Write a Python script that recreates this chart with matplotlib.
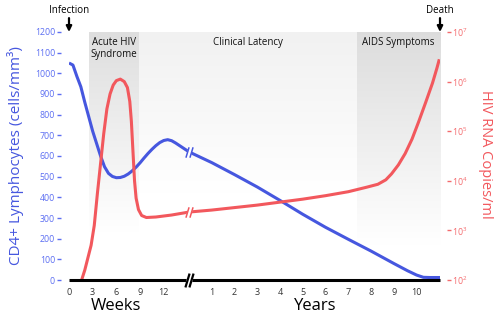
import numpy as np
import matplotlib
matplotlib.use('Agg')
import matplotlib.pyplot as plt
from matplotlib.ticker import NullLocator
from matplotlib.transforms import offset_copy

plt.rcParams['font.family'] = ['Open Sans', 'DejaVu Sans']
plt.rcParams['mathtext.fontset'] = 'custom'
plt.rcParams['mathtext.rm'] = 'Open Sans'
plt.rcParams['mathtext.default'] = 'regular'

# CD4 count (cells/mm3), first weeks after infection
cd4_weeks = [0, 0.5, 1, 1.5, 2, 2.5, 3, 3.5, 4, 4.5, 5, 5.5, 6, 6.5, 7, 7.5, 8, 8.5, 9, 9.5, 10, 10.5,
             11, 11.5, 12, 12.5, 13, 13.5, 15.2]
cd4_weeks_val = [1050, 1040, 985, 935, 860, 790, 720, 660, 600, 548, 516, 501, 495, 496, 502, 513, 528,
                 546, 567, 590, 612, 632, 650, 665, 675, 679, 674, 663, 620]
# CD4 count, years after infection
cd4_years = [0, 1, 2, 3, 4, 5, 6, 7, 8, 9, 9.6, 10, 10.3, 10.6, 11.03]
cd4_years_val = [620, 568, 510, 450, 385, 318, 255, 197, 140, 80, 45, 24, 13, 12, 12]

# HIV RNA, log10 copies/ml
rna_weeks = [1.6, 2.0, 2.4, 2.8, 3.2, 3.6, 4.0, 4.4, 4.8, 5.2, 5.6, 6.0, 6.5, 7.0, 7.4, 7.7, 7.9,
             8.1, 8.3, 8.5, 8.8, 9.2, 9.8, 11.0, 13.0, 15.2]
rna_weeks_log = [2.0, 2.2, 2.45, 2.7, 3.1, 3.75, 4.35, 4.95, 5.45, 5.75, 5.93, 6.02, 6.05, 6.0, 5.88, 5.6, 5.2,
                 4.6, 4.0, 3.65, 3.42, 3.3, 3.26, 3.27, 3.31, 3.37]
rna_years = [0, 1, 2, 3, 4, 5, 6, 7, 7.8, 8.3, 8.65, 8.9, 9.2, 9.5, 9.8, 10.1, 10.4, 10.7, 10.9, 11.0]
rna_years_log = [3.37, 3.41, 3.46, 3.51, 3.57, 3.63, 3.70, 3.78, 3.87, 3.93, 4.02, 4.14, 4.32, 4.55, 4.84,
                 5.2, 5.58, 5.97, 6.28, 6.45]

week_ticks = [0, 3, 6, 9, 12]
year_ticks = [1, 2, 3, 4, 5, 6, 7, 8, 9, 10]
cd4_ticks = list(range(0, 1300, 100))
rna_ticks = [1e2, 1e3, 1e4, 1e5, 1e6, 1e7]

# phases: (label, start, end) -- acute in weeks, the rest in years
acute = ('Acute HIV\nSyndrome', 2.53, 8.86)
latency_end_week = 15.2
aids = ('AIDS Symptoms', 7.37, 11.03)

BLUE = '#4657df'
RED = '#f2585d'
BLUE_T = '#5c6ef2'
RED_T = '#f46b6e'

W, H = 500, 321
fig = plt.figure(figsize=(5, 3.21), dpi=100)


def px_box(x0, x1, y_top, y_bot):
    return [x0 / W, 1 - y_bot / H, (x1 - x0) / W, (y_bot - y_top) / H]


ax_w = fig.add_axes(px_box(69, 189, 32, 280))
ax_y = fig.add_axes(px_box(189, 440, 32, 280))
ax_y.patch.set_visible(False)
tw_w = ax_w.twinx()
tw_y = ax_y.twinx()


def band(ax, x0, x1, top_gray, fade_to):
    g = np.linspace(top_gray, 1.0, 256)
    img = np.repeat(g[:, None, None], 3, axis=2)
    ax.imshow(img, extent=[x0, x1, fade_to, 1200], aspect='auto', origin='upper',
              zorder=0, interpolation='bilinear')


band(ax_w, acute[1], acute[2], 0.87, 230)
band(ax_w, acute[2], latency_end_week, 0.945, 420)
band(ax_y, 0, aids[1], 0.945, 420)
band(ax_y, aids[1], aids[2], 0.865, 170)

ax_w.plot(cd4_weeks, cd4_weeks_val, color=BLUE, lw=2.2, solid_capstyle='butt', zorder=3)
ax_y.plot(cd4_years, cd4_years_val, color=BLUE, lw=2.2, solid_capstyle='butt', zorder=3)
tw_w.plot(rna_weeks, np.power(10.0, rna_weeks_log), color=RED, lw=2.2, solid_capstyle='butt')
tw_y.plot(rna_years, np.power(10.0, rna_years_log), color=RED, lw=2.2, solid_capstyle='butt')

for ax in (ax_w, ax_y):
    ax.set_ylim(0, 1200)
    for s in ax.spines.values():
        s.set_visible(False)
for ax in (tw_w, tw_y):
    ax.set_yscale('log')
    ax.set_ylim(1e2, 1e7)
    ax.yaxis.set_minor_locator(NullLocator())
    for name, s in ax.spines.items():
        s.set_visible(name == 'bottom')
    ax.spines['bottom'].set_linewidth(2.2)
    ax.spines['bottom'].set_color('black')
    ax.spines['bottom'].set_capstyle('butt')

ax_w.set_xlim(0, latency_end_week)
ax_y.set_xlim(0, 11.03)

# left axis
ax_w.set_yticks(cd4_ticks)
ax_w.spines['left'].set_position(('outward', 5.5))
ax_w.tick_params(axis='y', colors=BLUE_T, labelsize=6.3, length=3, width=1, pad=1.5)
ax_y.tick_params(axis='y', left=False, labelleft=False)
tw_w.tick_params(axis='y', right=False, labelright=False)

# right axis
tw_y.set_yticks(rna_ticks)
tw_y.spines['right'].set_position(('outward', 5))
tw_y.tick_params(axis='y', colors=RED_T, labelsize=6.3, length=3, width=1, pad=1)

# bottom
ax_w.set_xticks(week_ticks)
ax_y.set_xticks(year_ticks)
for ax in (ax_w, ax_y):
    ax.tick_params(axis='x', length=0, pad=6, labelsize=6.5, labelcolor='#333333')


def axis_break(ax, x, y, color, lw, h, sep):
    slash = [(-0.3, -1), (0.3, 1)]
    for dx, c, w in [(0, 'white', sep * 1.3), (-sep / 2, color, lw), (sep / 2, color, lw)]:
        tr = offset_copy(ax.transData, fig=fig, x=dx, y=0, units='points')
        ax.plot([x], [y], marker=slash, ms=h, mew=w, mec=c, mfc='none', ls='none',
                transform=tr, clip_on=False, zorder=6)


axis_break(ax_y, 0, cd4_years_val[0], BLUE, 1.1, 7.5, 2.6)
axis_break(tw_y, 0, 10 ** rna_years_log[0], RED, 1.1, 7.5, 2.6)
axis_break(tw_y, 0, 1e2, 'black', 1.6, 10, 3.4)

# events
arrow = dict(arrowstyle='-|>', color='black', lw=1.6, mutation_scale=8, shrinkA=0, shrinkB=0)
ax_w.annotate('', xy=(0, 1200), xytext=(0, 10), textcoords='offset points',
              arrowprops=arrow, annotation_clip=False)
ax_w.annotate('Infection', xy=(0, 1200), xytext=(0, 11.5), textcoords='offset points',
              ha='center', va='bottom', fontsize=7, annotation_clip=False)
ax_y.annotate('', xy=(11.03, 1200), xytext=(0, 10), textcoords='offset points',
              arrowprops=arrow, annotation_clip=False)
ax_y.annotate('Death', xy=(11.03, 1200), xytext=(0, 11.5), textcoords='offset points',
              ha='center', va='bottom', fontsize=7, annotation_clip=False)

# phase labels
ax_w.text((acute[1] + acute[2]) / 2, 1175, acute[0], ha='center', va='top', fontsize=7,
          linespacing=1.15, color='#111111')
fig.text(248 / W, 1 - 42 / H, 'Clinical Latency', ha='center', va='center', fontsize=7, color='#111111')
ax_y.text((aids[1] + aids[2]) / 2, 1175, aids[0], ha='center', va='top', fontsize=7, color='#111111')

# axis titles
fig.text(16 / W, 1 - 156 / H, 'CD4+ Lymphocytes (cells/mm³)', rotation=90, ha='center', va='center',
         fontsize=11, color=BLUE)
fig.text(486 / W, 1 - 154 / H, 'HIV RNA Copies/ml', rotation=270, ha='center', va='center',
         fontsize=10.5, color=RED)
fig.text(116 / W, 1 - 306 / H, 'Weeks', ha='center', va='center', fontsize=12)
fig.text(315 / W, 1 - 306 / H, 'Years', ha='center', va='center', fontsize=12)

fig.savefig('out.png', dpi=100)
